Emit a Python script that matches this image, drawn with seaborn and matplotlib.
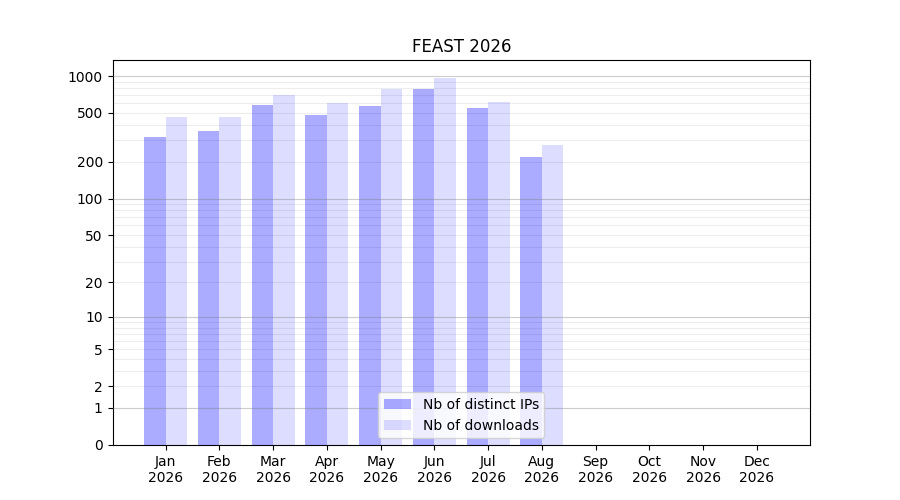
import numpy as np
import pandas as pd
import matplotlib
matplotlib.use("Agg")
from matplotlib import pyplot as plt
import seaborn as sns

months = ["Jan", "Feb", "Mar", "Apr", "May", "Jun",
          "Jul", "Aug", "Sep", "Oct", "Nov", "Dec"]
year = "2026"
distinct_ips = [319, 356, 580, 481, 570, 788, 549, 218, 0, 0, 0, 0]
downloads = [463, 463, 701, 602, 788, 963, 614, 274, 0, 0, 0, 0]
series = ["Nb of distinct IPs", "Nb of downloads"]

ytick_vals = [0, 1, 2, 5, 10, 20, 50, 100, 200, 500, 1000]
decades = [1, 10, 100, 1000]
minor_vals = [m * d for d in (1, 10, 100) for m in range(2, 10)]

df = pd.DataFrame({
    "month": months * 2,
    "value": distinct_ips + downloads,
    "series": [series[0]] * 12 + [series[1]] * 12,
})

fig = plt.figure(figsize=(9, 5), dpi=100)
ax = fig.add_subplot(111)

sns.barplot(data=df, x="month", y="value", hue="series", order=months,
            hue_order=series, palette=["blue", "blue"], saturation=1,
            width=0.8, legend=False, ax=ax)

for cont, a in zip(ax.containers, [0.33, 0.135]):
    for p in cont:
        p.set_alpha(a)
        p.set_edgecolor("none")

ax.set_yscale("function", functions=(lambda v: np.log10(1 + np.maximum(v, 0)),
                                     lambda v: 10 ** v - 1))
ax.set_ylim(0, 1350)
ax.set_xlim(-0.99, 11.99)

ax.set_yticks(ytick_vals)
ax.set_yticklabels([str(v) for v in ytick_vals])
ax.yaxis.set_minor_locator(matplotlib.ticker.NullLocator())
ax.set_xticks(range(len(months)))
ax.set_xticklabels([m + "\n" + year for m in months])

for v in minor_vals:
    ax.axhline(v, color="gray", alpha=0.14, lw=0.8, zorder=0.5)
for v in decades:
    ax.axhline(v, color="gray", alpha=0.4, lw=0.8, zorder=3)

ax.set_xlabel("")
ax.set_ylabel("")
ax.set_title("FEAST 2026")
ax.legend(ax.containers, series, loc="lower center")

plt.savefig("out.png", dpi=100)
